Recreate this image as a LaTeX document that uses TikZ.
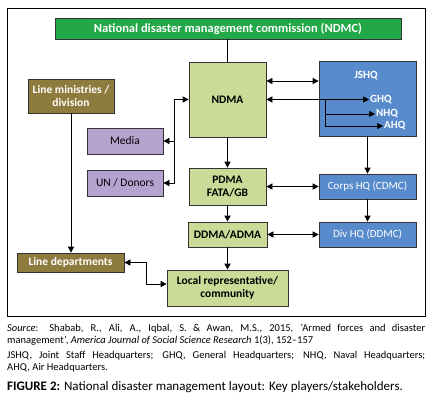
\documentclass[tikz,border=0pt]{standalone}
\usepackage{fontspec}
\setmainfont{Carlito}
\usepackage{xcolor}
\usetikzlibrary{arrows.meta}
\usetikzlibrary{calc}
\usetikzlibrary{positioning}

\definecolor{ndmcgreen}{RGB}{34,168,72}
\definecolor{lightgreen}{RGB}{201,219,151}
\definecolor{hqblue}{RGB}{88,139,204}
\definecolor{olivebox}{RGB}{141,124,62}
\definecolor{lavender}{RGB}{182,162,206}

\begin{document}
\begin{tikzpicture}[x=1pt,y=-1pt,
        box/.style={draw=black!80,line width=0.7pt,align=center,inner sep=1pt,
                    font=\fontsize{11.5}{13}\selectfont\bfseries},
        agency/.style={box,fill=lightgreen},
        forces/.style={box,fill=hqblue,text=white,font=\fontsize{11}{12.5}\selectfont},
        ministry/.style={box,fill=olivebox,text=white},
        partner/.style={box,fill=lavender,font=\fontsize{11.5}{13}\selectfont},
        hqtext/.style={text=white,font=\fontsize{11}{12.5}\selectfont\bfseries,inner sep=1pt},
        arr/.style={line width=0.7pt,-{Triangle[length=6pt,width=6pt]}},
        darr/.style={line width=0.7pt,{Triangle[length=6pt,width=6pt]}-{Triangle[length=6pt,width=6pt]}}]
        \useasboundingbox (0,0) rectangle (438,400);
        \draw[line width=0.8pt] (7,8) rectangle (425,316);

        % boxes
        \node[box,fill=ndmcgreen,text=white,minimum width=346pt,minimum height=21pt,
              font=\fontsize{12.5}{14}\selectfont\bfseries] (ndmc) at (228,28.5) {National disaster management commission (NDMC)};
        \node[agency,minimum width=77pt,minimum height=75pt] (ndma) at (227.5,99.5) {NDMA};
        \node[forces,minimum width=97pt,minimum height=75pt] (jshq) at (367.5,98.5) {};
        \node[hqtext] (jshqtext) at (366,76) {JSHQ};
        \node[hqtext,anchor=west] (ghq) at (369,99.5) {GHQ};
        \node[hqtext,anchor=west] (nhq) at (375,114) {NHQ};
        \node[hqtext,anchor=west] (ahq) at (383,126) {AHQ};
        \node[ministry,minimum width=86pt,minimum height=34pt] (lmin) at (71,96) {Line ministries /\\division};
        \node[partner,minimum width=76pt,minimum height=26pt] (media) at (125,141) {Media};
        \node[partner,minimum width=76pt,minimum height=26pt] (un) at (125,183) {UN / Donors};
        \node[agency,minimum width=77pt,minimum height=37pt] (pdma) at (227.5,186.5) {PDMA\\FATA/GB};
        \node[forces,minimum width=97pt,minimum height=25pt] (corps) at (367.5,186.5) {Corps HQ (CDMC)};
        \node[agency,minimum width=79pt,minimum height=25pt] (ddma) at (227.5,234.5) {DDMA/ADMA};
        \node[forces,minimum width=97pt,minimum height=25pt] (div) at (367.5,234.5) {Div HQ (DDMC)};
        \node[agency,minimum width=121pt,minimum height=36pt] (local) at (227.5,288) {Local representative/\\community};
        \node[ministry,minimum width=107pt,minimum height=19pt] (ldep) at (70.5,262.5) {Line departments};

        % connectors
        \draw[line width=0.7pt] (ndmc.south -| ndma.north) -- (ndma.north);
        \draw[darr] ([yshift=18.5pt]ndma.east) coordinate (top) -- (top -| jshq.west);
        \draw[darr] (ndma.east) -- (ghq.west);
        \coordinate (split) at (325,99.5);
        \draw[arr] (split) |- (nhq.west);
        \draw[arr] (split) |- (ahq.west);
        \draw[darr] (ndma.west) -- ++(-14pt,0) coordinate (fork) |- (un.east);
        \draw[arr] (fork |- media.east) -- (media.east);
        \draw[arr] (ndma.south) -- (pdma.north);
        \draw[arr] (pdma.south) -- (ddma.north);
        \draw[arr] (ddma.south) -- (local.north);
        \draw[arr] (jshq.south) -- (corps.north);
        \draw[arr] (corps.south) -- (div.north);
        \draw[darr] (pdma.east) -- (corps.west);
        \draw[darr] (ddma.east) -- (div.west);
        \draw[arr] (lmin.south) -- (lmin.south |- ldep.north);
        \draw[darr] (ldep.east) -- ++(22pt,0) |- ([yshift=4pt]local.west);

        % caption
        \node[anchor=north west,text width=418pt,align=justify,inner sep=0pt,
              font=\fontsize{10.5}{12}\selectfont] (src) at (7,323.5)
              {\textit{Source}: Shabab, R., Ali, A., Iqbal, S. \& Awan, M.S., 2015, `Armed forces and disaster\linebreak management', \textit{America Journal of Social Science Research} 1(3), 152--157};
        \node[anchor=north west,text width=418pt,align=justify,inner sep=0pt,
              font=\fontsize{10.5}{12}\selectfont] (abbr) at (7,350.5)
              {JSHQ, Joint Staff Headquarters; GHQ, General Headquarters; NHQ, Naval Headquarters;\linebreak AHQ, Air Headquarters.};
        \node[anchor=north west,inner sep=0pt,font=\fontsize{13}{15}\selectfont] (fig) at (7,381)
              {\textbf{FIGURE 2:} National disaster management layout: Key players/stakeholders.};
\end{tikzpicture}
\end{document}
